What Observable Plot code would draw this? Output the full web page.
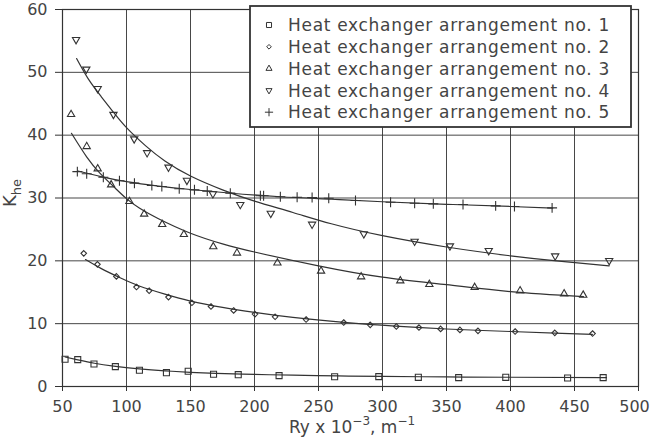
<!DOCTYPE html>
<html><head><meta charset="utf-8">
<script src="https://cdn.jsdelivr.net/npm/d3@7"></script>
<script src="https://cdn.jsdelivr.net/npm/@observablehq/plot@0.6"></script>
<style>
body{margin:0;background:#fff;}
#wrap{position:relative;width:651px;height:445px;overflow:hidden;}
#legend{position:absolute;left:249px;top:5px;}
</style></head><body><div id="wrap"></div>
<script>
// ---- data ----
const xTicks = [50,100,150,200,250,300,350,400,450,500];
const yTicks = [0,10,20,30,40,50,60];
const seriesNames = [
  "Heat exchanger arrangement no. 1",
  "Heat exchanger arrangement no. 2",
  "Heat exchanger arrangement no. 3",
  "Heat exchanger arrangement no. 4",
  "Heat exchanger arrangement no. 5"
];
// measured points
const x1 = [52.0,61.9,74.6,91.3,110.1,131.2,148.2,168.0,187.3,219.2,262.6,297.1,328.0,359.5,396.3,444.6,472.4];
const y1 = [4.34,4.28,3.59,3.16,2.58,2.20,2.42,1.94,1.88,1.73,1.55,1.57,1.46,1.41,1.46,1.36,1.41];
const x2 = [66.6,77.3,92.1,107.8,117.7,132.8,151.1,166.0,183.7,200.4,216.1,240.3,269.7,290.4,310.8,328.5,345.4,360.5,374.6,403.6,434.6,464.1];
const y2 = [21.19,19.44,17.52,15.83,15.24,14.23,13.32,12.73,12.10,11.52,11.09,10.66,10.18,9.81,9.55,9.38,9.17,9.01,8.86,8.75,8.54,8.43];
const x3 = [56.7,68.9,77.5,88.0,102.3,113.8,127.9,144.8,167.8,186.3,217.9,252.0,283.3,313.9,336.6,372.0,407.5,441.9,456.8];
const y3 = [43.3,38.2,34.65,32.1,29.45,27.45,25.8,24.2,22.26,21.25,19.66,18.38,17.47,16.83,16.25,15.77,15.24,14.76,14.55];
const x4 = [60.6,68.6,77.5,89.8,106.0,116.1,132.8,147.2,167.5,188.9,212.7,245.0,285.4,325.1,352.7,383.0,434.9,477.1];
const y4 = [55.2,50.5,47.4,43.3,39.4,37.2,34.9,32.8,30.67,28.96,27.55,25.82,24.29,23.11,22.37,21.62,20.77,20.03];
const x5 = [61.6,68.9,81.9,94.5,106.2,119.8,127.6,141.2,153.1,163.1,181.1,204.6,207.1,220.2,233.3,245.0,258.0,278.9,306.3,325.1,339.7,362.9,388.4,403.1,432.5];
const y5 = [34.2,33.86,33.3,32.74,32.36,31.99,31.83,31.47,31.3,31.1,30.77,30.35,30.35,30.19,30.13,30.08,29.97,29.6,29.33,29.17,29.07,28.96,28.75,28.64,28.43];
// fitted curves
const fx1 = [52,62,75,90,110,130,150,170,200,230,265,300,350,400,475];
const fy1 = [4.7,4.25,3.7,3.25,2.82,2.5,2.25,2.08,1.92,1.8,1.68,1.6,1.52,1.47,1.41];
const fx2 = [68,80,95,110,130,150,175,200,230,270,310,350,400,440,464];
const fy2 = [20.2,18.8,17.3,16.0,14.7,13.6,12.6,11.8,11.0,10.2,9.6,9.15,8.75,8.45,8.3];
const fx3 = [57,69,79,90,100,110,125,150,175,200,250,300,350,400,457];
const fy3 = [40.3,36.5,34.0,31.8,29.9,28.4,26.7,24.4,22.7,21.4,19.2,17.4,16.2,15.1,14.3];
const fx4 = [61,70,80,90,100,115,130,150,175,200,230,260,300,350,400,440,477];
const fy4 = [52.2,49.0,46.2,43.6,41.2,38.3,35.9,33.5,31.3,29.5,27.7,25.9,24.0,22.2,20.8,19.9,19.2];
const fx5 = [62,80,100,125,150,180,220,260,300,350,400,433];
const fy5 = [34.3,33.4,32.6,31.9,31.35,30.8,30.2,29.8,29.4,29.0,28.65,28.4];

// ---- build ----
const ink = "#333";
const textInk = "#444";
const pts = (xs, ys) => xs.map((x, i) => ({x, y: ys[i]}));
const symbols = [
  {symbol: "square", r: 3.4, rotate: 0},
  {symbol: "diamond2", r: 2.5, rotate: 0},
  {symbol: "triangle", r: 2.7, rotate: 0},
  {symbol: "triangle", r: 2.7, rotate: 180},
  {symbol: "plus", r: 3.3, rotate: 0}
];
const meas = [pts(x1,y1), pts(x2,y2), pts(x3,y3), pts(x4,y4), pts(x5,y5)];
const fits = [pts(fx1,fy1), pts(fx2,fy2), pts(fx3,fy3), pts(fx4,fy4), pts(fx5,fy5)];

const marks = [
  Plot.gridX({ticks: xTicks, stroke: ink, strokeOpacity: 0.9, strokeWidth: 1}),
  Plot.gridY({ticks: yTicks, stroke: ink, strokeOpacity: 0.9, strokeWidth: 1}),
  Plot.frame({stroke: ink, strokeWidth: 1.2}),
  Plot.axisX({ticks: xTicks, tickSize: 5, tickPadding: 9, label: null, stroke: ink, fill: textInk}),
  Plot.axisY({ticks: yTicks, tickSize: 7, tickPadding: 8, label: null, stroke: ink, fill: textInk})
];
fits.forEach(f => marks.push(Plot.line(f, {x: "x", y: "y", curve: "natural", stroke: ink, strokeWidth: 1.2})));
meas.forEach((m, k) => marks.push(Plot.dot(m, {x: "x", y: "y", symbol: symbols[k].symbol, r: symbols[k].r, rotate: symbols[k].rotate, stroke: ink, fill: "none", strokeWidth: 1.1})));

const chart = Plot.plot({
  width: 651, height: 445,
  marginLeft: 62, marginRight: 13, marginTop: 9, marginBottom: 59,
  style: {fontFamily: "DejaVu Sans", fontSize: "16px", color: ink, background: "#fff"},
  x: {domain: [50, 500], label: null},
  y: {domain: [0, 60], label: null},
  marks
});
document.getElementById("wrap").appendChild(chart);

const svg = d3.select(chart);
// keep the last x tick label inside the picture, as in the reference
svg.selectAll("text").filter(function() { return this.textContent === "500"; }).attr("dx", -4);

// axis titles with sub/superscripts
const xl = svg.append("text").attr("x", 352).attr("y", 433).attr("text-anchor", "middle")
  .attr("font-family", "DejaVu Sans").attr("font-size", 17).attr("fill", textInk);
xl.append("tspan").text("Ry x 10");
xl.append("tspan").attr("dy", -8).attr("font-size", 12).text("\u22123");
xl.append("tspan").attr("dy", 8).text(", m");
xl.append("tspan").attr("dy", -8).attr("font-size", 12).text("\u22121");

const yl = svg.append("text").attr("transform", "translate(16,193) rotate(-90)").attr("text-anchor", "middle")
  .attr("font-family", "DejaVu Sans").attr("font-size", 18).attr("fill", textInk);
yl.append("tspan").text("K");
yl.append("tspan").attr("dy", 5).attr("font-size", 13).text("he");

// legend
const lw = 383, lh = 123;
const leg = d3.select("#wrap").append("svg").attr("id", "legend").attr("width", lw).attr("height", lh);
leg.append("rect").attr("x", 1).attr("y", 1).attr("width", lw - 2).attr("height", lh - 2)
  .attr("fill", "#fff").attr("stroke", ink).attr("stroke-width", 1.8);
const symType = {square: d3.symbolSquare, diamond2: d3.symbolDiamond2, triangle: d3.symbolTriangle, plus: d3.symbolPlus};
seriesNames.forEach((name, k) => {
  const cy = 20 + k * 21.8;
  const s = symbols[k];
  leg.append("path")
    .attr("d", d3.symbol(symType[s.symbol], Math.PI * s.r * s.r * 0.7)())
    .attr("transform", `translate(20,${cy}) rotate(${s.rotate})`)
    .attr("fill", "none").attr("stroke", ink).attr("stroke-width", 1);
  leg.append("text").attr("x", 39).attr("y", cy).attr("dy", "0.36em")
    .attr("font-family", "DejaVu Sans").attr("font-size", 17).attr("letter-spacing", "0.7px")
    .attr("fill", textInk).text(name);
});
</script>
</body></html>
